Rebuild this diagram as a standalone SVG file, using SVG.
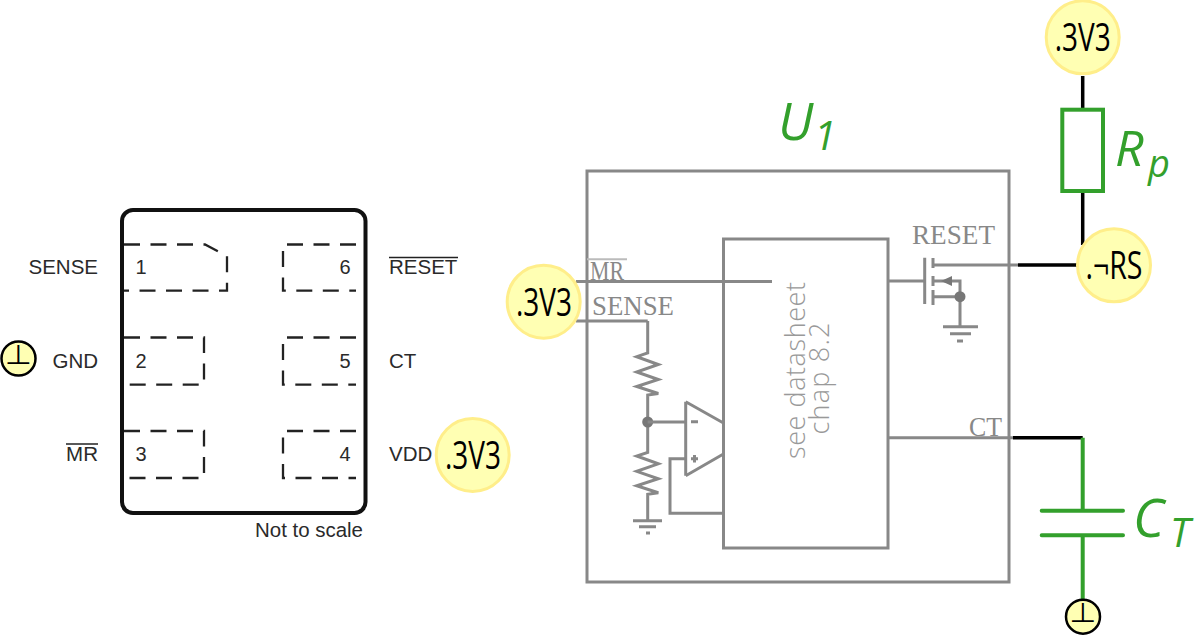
<svg xmlns="http://www.w3.org/2000/svg" width="1197" height="636" viewBox="0 0 1197 636">
<style>
.pkg{fill:none;stroke:#111;stroke-width:4}
.pad{fill:none;stroke:#222;stroke-width:2.3;stroke-dasharray:16 10.500}
.lbl{font-family:"Liberation Sans",Arial,sans-serif;font-size:20.500px;fill:#2a2a2a}
.num{font-family:"Liberation Sans",Arial,sans-serif;font-size:20px;fill:#2a2a2a}
.ov{fill:none;stroke:#222;stroke-width:1.500}
.net{fill:#ffffb3;stroke:#ffee8a;stroke-width:3}
.nett{font-family:"Open Sans","Liberation Sans",sans-serif;font-size:39px;fill:#000;text-anchor:middle}
.gnd{fill:#ffffb3;stroke:#000;stroke-width:2.500}
.gndt{font-family:"DejaVu Sans",sans-serif;font-size:27px;fill:#000;text-anchor:middle}
.g{fill:none;stroke:#888;stroke-width:3}
.gf{fill:#777;stroke:none}
.mono{font-family:"Liberation Serif","Times New Roman",serif;font-size:28px;fill:#888}
.dia{font-family:"Open Sans","Liberation Sans",sans-serif;font-weight:300;font-size:27px;fill:#999;text-anchor:middle}
.w{fill:none;stroke:#000;stroke-width:3.500}
.gr{fill:none;stroke:#33a02c;stroke-width:4}
.grt{font-family:"Open Sans","Liberation Sans",sans-serif;font-style:italic;fill:#33a02c}
</style>

<g id="package">
<rect class="pkg" x="122" y="210" width="243.500" height="303" rx="11"/>
<text class="lbl" x="255" y="537" textLength="108" lengthAdjust="spacingAndGlyphs">Not to scale</text>
</g>
<g id="pin1">
<path class="pad" d="M124 244.500H205L227 256V290.700H124"/>
<text class="lbl" x="98" y="274" text-anchor="end">SENSE</text>
<text class="num" x="141" y="274" text-anchor="middle">1</text>
</g>
<g id="pin2">
<path class="pad" d="M124 337.500H204V384.700H124"/>
<text class="lbl" x="98" y="367.500" text-anchor="end">GND</text>
<text class="num" x="141" y="368" text-anchor="middle">2</text>
</g>
<g id="pin3">
<path class="pad" d="M124 431H204V478H124"/>
<text class="lbl" x="98" y="461" text-anchor="end">MR</text>
<path class="ov" d="M66 444H98"/>
<text class="num" x="141" y="461" text-anchor="middle">3</text>
</g>
<g id="pin4">
<path class="pad" d="M356 431H283V478H356"/>
<text class="lbl" x="389" y="461">VDD</text>
<text class="num" x="345" y="461" text-anchor="middle">4</text>
</g>
<g id="pin5">
<path class="pad" d="M356 337.500H283V384.700H356"/>
<text class="lbl" x="389" y="367.500">CT</text>
<text class="num" x="345" y="368" text-anchor="middle">5</text>
</g>
<g id="pin6">
<path class="pad" d="M356 244.500H283V290.700H356"/>
<text class="lbl" x="389" y="274">RESET</text>
<path class="ov" d="M389 257.500H458"/>
<text class="num" x="345" y="274" text-anchor="middle">6</text>
</g>

<g id="u1-box">
<rect class="g" x="587" y="171" width="422" height="411"/>
</g>
<g id="u1-core">
<rect class="g" x="723.500" y="239" width="164.500" height="309"/>
<text class="dia" transform="translate(805 370.500) rotate(-90)" textLength="177" lengthAdjust="spacing">see datasheet</text>
<text class="dia" transform="translate(829 378.500) rotate(-90)" textLength="112" lengthAdjust="spacing">chap 8.2</text>
</g>
<g id="u1-label">
<text class="grt" x="778" y="140" font-size="52">U</text>
<text class="grt" x="814" y="150" font-size="40">1</text>
</g>
<g id="sense-divider">
<path class="g" d="M647.700 321V353L636.700 356.700L658.300 364.500L636.700 372L658.300 379.500L636.700 386.500L658.300 393.500L647.700 395V452.300L636.700 456L658.300 463.800L636.700 471.300L658.300 478.800L636.700 485.800L658.300 492.800L647.700 494.300V520.700"/>
<circle class="gf" cx="647.700" cy="422" r="5.500"/>
<path class="g" d="M633 520.700H662M639 526.700H656M646 533H650"/>
</g>
<g id="opamp">
<path class="g" d="M685.700 401.700L723 422.700M723 454.300L685.700 475.700ZM685.700 401.700V475.700"/>
<path class="g" d="M647.700 422H685.700M685.700 458.700H670V513.300H723.500"/>
<path class="g" d="M691 421.700H698M691 458.700H698M694.500 455V462.400"/>
</g>
<g id="mosfet">
<path class="g" d="M924.700 257.700V304M933 258V268M933 276V286M933 290V305"/>
<path class="g" d="M889 281H924.700M933 265H1018M933 281H960V327M933 296.700H960"/>
<path class="gf" d="M941 281L952 276V286Z"/>
<circle class="gf" cx="960" cy="296.700" r="5.500"/>
<path class="g" d="M943 326.700H978M950 333.700H971M957 341H963"/>
</g>
<g id="u1-pins">
<path class="g" d="M576 281.500H772M576 321H647.700M888 437.700H1013"/>
<path d="M587 259.300H627" fill="none" stroke="#bbb" stroke-width="2"/>
<text class="mono" x="590" y="280" textLength="34" lengthAdjust="spacingAndGlyphs">MR</text>
<text class="mono" x="592" y="314.500" textLength="82" lengthAdjust="spacingAndGlyphs">SENSE</text>
<text class="mono" x="912" y="244.300" textLength="83" lengthAdjust="spacingAndGlyphs">RESET</text>
<text class="mono" x="969" y="436" textLength="33" lengthAdjust="spacingAndGlyphs">CT</text>
</g>

<g id="connectors">
<path class="w" d="M1082.700 76V110M1082.700 191V245M1018 265H1080M1013 437.700H1082.700"/>
<path class="gr" d="M1082.700 437.700V510.700M1082.700 535.300V599"/>
</g>

<g id="rp">
<rect class="gr" x="1062.300" y="109.700" width="40.700" height="81.300"/>
<text class="grt" x="1115" y="165.500" font-size="50">R</text>
<text class="grt" x="1148" y="177" font-size="38">p</text>
</g>
<g id="ct">
<path class="gr" stroke-linecap="round" d="M1041.700 510.700H1123M1041.700 535.300H1123"/>
<text class="grt" x="1133" y="537" font-size="53">C</text>
<text class="grt" x="1170" y="547" font-size="40">T</text>
</g>

<g id="net-3v3-top">
<circle class="net" cx="1082.700" cy="37.300" r="36.500"/>
<text class="nett" x="1082.700" y="51" textLength="56" lengthAdjust="spacingAndGlyphs">.3V3</text>
</g>
<g id="net-3v3-left">
<circle class="net" cx="543.700" cy="301.700" r="36.500"/>
<text class="nett" x="544" y="315.500" textLength="56" lengthAdjust="spacingAndGlyphs">.3V3</text>
</g>
<g id="net-3v3-vdd">
<circle class="net" cx="472.700" cy="455" r="36.500"/>
<text class="nett" x="473" y="468.500" textLength="56" lengthAdjust="spacingAndGlyphs">.3V3</text>
</g>
<g id="net-rs">
<circle class="net" cx="1114" cy="265.300" r="36.500"/>
<text class="nett" x="1114" y="279" textLength="57" lengthAdjust="spacingAndGlyphs">.¬RS</text>
</g>
<g id="gnd-left">
<circle class="gnd" cx="18.500" cy="358.500" r="17"/>
<text class="gndt" x="18.500" y="364" textLength="27" lengthAdjust="spacingAndGlyphs">⊥</text>
</g>
<g id="gnd-bottom">
<circle class="gnd" cx="1083" cy="616.700" r="17"/>
<text class="gndt" x="1083" y="622" textLength="27" lengthAdjust="spacingAndGlyphs">⊥</text>
</g>
</svg>
